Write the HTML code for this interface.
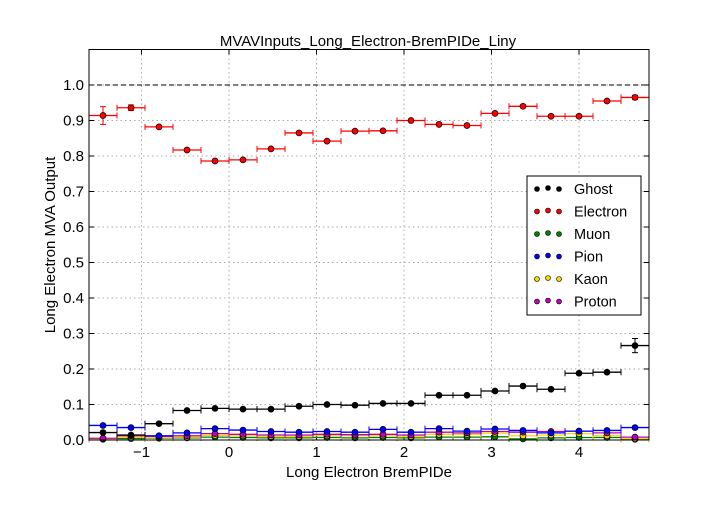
<!DOCTYPE html>
<html><head><meta charset="utf-8"><style>
body{margin:0;background:#fff;}
svg text{font-family:"Liberation Sans",sans-serif;}
</style></head><body>
<svg id="chart" width="720" height="504" xmlns="http://www.w3.org/2000/svg"></svg>
<script>
const xMin=-1.6, xMax=4.8, nBins=20;
const xTicks=[-1,0,1,2,3,4];
const xTickLabels=["\u22121","0","1","2","3","4"];
const yTicks=[0,0.1,0.2,0.3,0.4,0.5,0.6,0.7,0.8,0.9,1.0];
const yTickLabels=["0.0","0.1","0.2","0.3","0.4","0.5","0.6","0.7","0.8","0.9","1.0"];
const seriesNames=["Ghost","Electron","Muon","Pion","Kaon","Proton"];
const seriesColors=["#000000","#ff0000","#008000","#0000ff","#ffd700","#c000c0"];
const ghost=[0.021,0.014,0.046,0.083,0.089,0.087,0.087,0.095,0.100,0.098,0.103,0.103,0.126,0.126,0.138,0.152,0.143,0.188,0.191,0.266];
const electron=[0.914,0.936,0.882,0.817,0.786,0.789,0.820,0.865,0.842,0.870,0.871,0.900,0.889,0.886,0.920,0.940,0.912,0.912,0.955,0.965];
const muon=[0.002,0.004,0.005,0.006,0.008,0.007,0.006,0.006,0.007,0.006,0.007,0.006,0.008,0.008,0.009,0.003,0.006,0.007,0.007,0.002];
const pion=[0.041,0.035,0.012,0.020,0.032,0.028,0.024,0.022,0.024,0.022,0.030,0.022,0.032,0.025,0.031,0.027,0.020,0.025,0.027,0.035];
const kaon=[0.003,0.008,0.006,0.008,0.013,0.012,0.010,0.010,0.012,0.012,0.012,0.010,0.016,0.016,0.019,0.012,0.014,0.018,0.012,0.004];
const proton=[0.005,0.012,0.010,0.012,0.018,0.016,0.014,0.014,0.016,0.015,0.016,0.014,0.022,0.020,0.024,0.022,0.024,0.025,0.020,0.008];
const electronErr=[0.025,0.008,0.005,0.004,0.004,0.004,0.004,0.004,0.004,0.004,0.004,0.004,0.004,0.004,0.004,0.004,0.004,0.004,0.004,0.006];
const ghostErr=[0.004,0.003,0.004,0.004,0.004,0.004,0.004,0.004,0.004,0.004,0.004,0.004,0.004,0.004,0.004,0.004,0.004,0.005,0.005,0.02];

const L=89,R=649,T=49.5,B=440,yMax=1.1;
const sx=v=>L+(v-xMin)/(xMax-xMin)*(R-L);
const sy=v=>B-v/yMax*(B-T);
const svg=document.getElementById('chart');
const NS='http://www.w3.org/2000/svg';
function mk(tag,attrs,parent){const e=document.createElementNS(NS,tag);for(const k in attrs)e.setAttribute(k,attrs[k]);(parent||svg).appendChild(e);return e;}

xTicks.forEach((t,i)=>{
  const g=mk('line',{x1:sx(t),x2:sx(t),y1:T,y2:B,stroke:'#aaa','stroke-dasharray':'1.5,3'});
  
  
  const tl=mk('text',{x:sx(t),y:B+17,'text-anchor':'middle','font-size':'15'});
  tl.textContent=xTickLabels[i];
  
  
  mk('line',{x1:sx(t),x2:sx(t),y1:B,y2:B-5,stroke:'#000'});
  mk('line',{x1:sx(t),x2:sx(t),y1:T,y2:T+5,stroke:'#000'});
});
yTicks.forEach((t,i)=>{
  if(t>0){const g=mk('line',{x1:L,x2:R,y1:sy(t),y2:sy(t),stroke:'#aaa','stroke-dasharray':'1.5,3'});
  
  }
  const tl=mk('text',{x:L-5,y:sy(t)+5,'text-anchor':'end','font-size':'15'});
  tl.textContent=yTickLabels[i];
  
  
  mk('line',{x1:L,x2:L+5,y1:sy(t),y2:sy(t),stroke:'#000'});
  mk('line',{x1:R,x2:R-5,y1:sy(t),y2:sy(t),stroke:'#000'});
});
const ref=mk('line',{x1:L,x2:R,y1:sy(1),y2:sy(1),stroke:'#000','stroke-dasharray':'5,3'});



const allSeries=[ghost,electron,muon,pion,kaon,proton];
const errs=[ghostErr,electronErr,null,null,null,null];
const bw=(xMax-xMin)/nBins;
const order=[2,4,5,3,0,1];
order.forEach(si=>{
  const data=allSeries[si], col=seriesColors[si];
  const g=mk('g',{});
  
  
  data.forEach((v,i)=>{
    const x0=xMin+i*bw, x1=x0+bw, xc=x0+bw/2;
    mk('line',{x1:sx(x0),x2:sx(x1),y1:sy(v),y2:sy(v),stroke:col,'stroke-width':1.3},g);
    mk('line',{x1:sx(x0),x2:sx(x0),y1:sy(v)-3,y2:sy(v)+3,stroke:col},g);
    mk('line',{x1:sx(x1),x2:sx(x1),y1:sy(v)-3,y2:sy(v)+3,stroke:col},g);
    const e=errs[si]?errs[si][i]:0;
    if(e>0.005){
      mk('line',{x1:sx(xc),x2:sx(xc),y1:sy(v-e),y2:sy(v+e),stroke:col},g);
      mk('line',{x1:sx(xc)-3,x2:sx(xc)+3,y1:sy(v-e),y2:sy(v-e),stroke:col},g);
      mk('line',{x1:sx(xc)-3,x2:sx(xc)+3,y1:sy(v+e),y2:sy(v+e),stroke:col},g);
    }
    const p=mk('circle',{cx:sx(xc),cy:sy(v),r:3,fill:col,stroke:'#000','stroke-width':0.7},g);
    
    
  });
});

mk('rect',{x:L,y:T,width:R-L,height:B-T,fill:'none',stroke:'#000'});

const title=mk('text',{x:368,y:46,'text-anchor':'middle','font-size':'15'});
title.textContent='MVAVInputs_Long_Electron-BremPIDe_Liny';


const xl=mk('text',{x:369,y:477,'text-anchor':'middle','font-size':'15'});
xl.textContent='Long Electron BremPIDe';


const yl=mk('text',{x:0,y:0,'text-anchor':'middle','font-size':'15',transform:'translate(55,245) rotate(-90)'});
yl.textContent='Long Electron MVA Output';



const lg=mk('g',{});


mk('rect',{x:527,y:176,width:114,height:139,fill:'#fff',stroke:'#000'},lg);
seriesNames.forEach((n,i)=>{
  const y=189+i*22.5;
  const ent=mk('g',{},lg);
  
  
  [537,548,559].forEach((x,j)=>mk('circle',{cx:x,cy:y+(j==1?-1:0),r:2.5,fill:seriesColors[i],stroke:'#000','stroke-width':0.6},ent));
  const t=mk('text',{x:574,y:y+5,'font-size':'14.5'},ent);
  t.textContent=n;
});
</script>
</body></html>
